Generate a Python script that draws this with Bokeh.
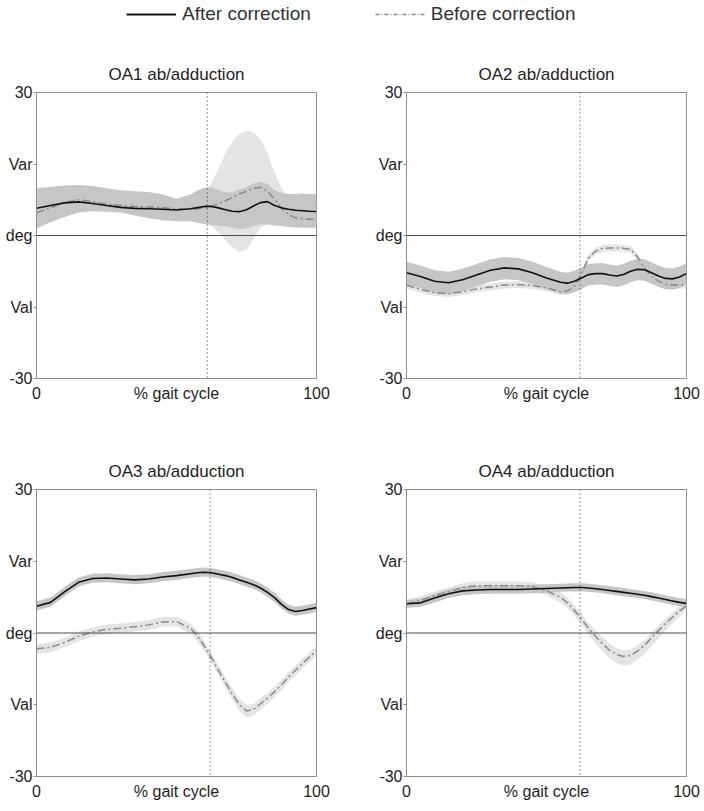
from bokeh.plotting import figure
from bokeh.models import Range1d, FixedTicker, Span, Legend, LegendItem
from bokeh.layouts import column, row
from bokeh.embed import file_html
from bokeh.resources import INLINE

# ---------------- data ----------------
pct = [0, 5, 10, 15, 20, 25, 30, 35, 40, 45, 50, 55, 57.5, 60, 62.5, 65, 67.5, 70, 72.5, 75,
       77.5, 80, 82.5, 85, 87.5, 90, 92.5, 95, 97.5, 100]
titles = ["OA1 ab/adduction", "OA2 ab/adduction", "OA3 ab/adduction", "OA4 ab/adduction"]
toe_off = [61, 62, 62, 62]
y_ticks = [-30, -15, 0, 15, 30]
y_tick_labels = ["-30", "Val", "deg", "Var", "30"]
x_ticks = [0, 50, 100]
x_tick_labels = ["0", "% gait cycle", "100"]
series_names = ["After correction", "Before correction"]

oa1_after = [5.7, 6.3, 6.85, 7.05, 6.7, 6.3, 5.9, 5.7, 5.6, 5.5, 5.35,
             5.6, 5.85, 6.1, 6.1, 5.8, 5.4, 5.1, 5.0, 5.4, 6.2, 6.9, 7.1, 6.3, 5.8, 5.5, 5.3, 5.2, 5.1, 5.05]
oa1_after_lo = [1.5, 2.8, 3.9, 4.8, 5.1, 5.0, 4.8, 4.2, 3.6, 3.2, 3.0,
                3.0, 2.7, 2.4, 2.2, 2.0, 1.9, 1.6, 1.3, 1.5, 2.0, 2.3, 2.3, 2.1, 2.0, 1.8, 1.7, 1.6, 1.6, 1.6]
oa1_after_hi = [9.9, 10.2, 10.5, 10.6, 10.4, 9.9, 9.5, 9.3, 9.1, 8.6, 7.7,
                8.6, 9.5, 10.0, 10.1, 9.6, 9.0, 9.0, 9.6, 10.2, 10.9, 11.3, 10.8, 9.5, 8.9, 8.7, 8.7, 8.8, 8.7, 8.7]
oa1_before = [4.75, 5.8, 6.9, 7.5, 7.1, 6.6, 6.3, 6.1, 6.0, 5.8, 5.6,
              5.5, 5.6, 5.8, 6.1, 6.7, 7.3, 8.0, 8.7, 9.3, 9.9, 10.1, 9.3, 7.6, 5.7, 4.4, 3.7, 3.5, 3.4, 3.4]
oa1_before_lo = [3.5, 4.4, 5.5, 6.1, 5.8, 5.3, 5.0, 4.8, 4.7, 4.5, 4.3,
                 4.0, 3.6, 3.0, 2.0, 0.7, -1.0, -2.6, -3.5, -3.0, -0.8, 1.6, 2.4, 2.5, 2.5, 2.5, 2.2, 2.0, 2.0, 2.0]
oa1_before_hi = [6.0, 7.2, 8.3, 8.9, 8.4, 7.9, 7.6, 7.4, 7.3, 7.1, 6.9,
                 7.5, 8.0, 9.0, 11.0, 14.0, 17.3, 19.7, 21.4, 22.0, 21.6, 20.3, 17.3, 13.3, 10.0, 7.5, 6.5, 6.0, 5.7, 5.5]

oa2_after = [-7.8, -8.6, -9.6, -9.9, -9.3, -8.3, -7.3, -6.8, -7.0, -7.8, -8.9,
             -9.8, -10.0, -9.6, -8.9, -8.2, -8.0, -8.0, -8.3, -8.5, -8.2, -7.5, -7.1, -7.2, -7.8, -8.5, -9.0, -9.1, -8.7, -8.0]
oa2_after_lo = [-10.2, -11.0, -12.0, -12.3, -11.7, -10.7, -9.7, -9.2, -9.4, -10.2, -11.3,
                -12.1, -12.3, -11.9, -11.2, -10.5, -10.3, -10.3, -10.6, -10.8, -10.5, -9.8, -9.4, -9.5, -10.1, -10.8, -11.3, -11.4, -11.0, -10.3]
oa2_after_hi = [-5.5, -6.3, -7.3, -7.6, -7.0, -6.0, -5.0, -4.5, -4.7, -5.5, -6.6,
                -7.6, -7.8, -7.4, -6.7, -6.0, -5.8, -5.8, -6.1, -6.3, -6.0, -5.3, -4.9, -5.0, -5.6, -6.3, -6.8, -6.9, -6.5, -5.8]
oa2_before = [-10.4, -11.3, -12.0, -12.2, -11.8, -11.2, -10.8, -10.4, -10.3, -10.5, -11.0,
              -11.8, -11.6, -10.6, -8.0, -4.7, -3.3, -2.7, -2.6, -2.6, -2.7, -2.9, -4.5, -6.8, -8.6, -9.6, -10.2, -10.4, -10.4, -10.4]
oa2_before_lo = [-11.1, -12.0, -12.7, -12.9, -12.5, -11.9, -11.5, -11.1, -11.0, -11.2, -11.7,
                 -12.5, -12.3, -11.3, -8.7, -5.4, -4.0, -3.4, -3.3, -3.3, -3.4, -3.6, -5.2, -7.5, -9.3, -10.3, -10.9, -11.1, -11.1, -11.1]
oa2_before_hi = [-9.7, -10.6, -11.3, -11.5, -11.1, -10.5, -10.1, -9.7, -9.6, -9.8, -10.3,
                 -11.1, -10.9, -9.9, -7.3, -4.0, -2.6, -2.0, -1.9, -1.9, -2.0, -2.2, -3.8, -6.1, -7.9, -8.9, -9.5, -9.7, -9.7, -9.7]

oa3_after = [5.6, 6.4, 8.6, 10.6, 11.4, 11.5, 11.3, 11.1, 11.3, 11.7, 12.0,
             12.4, 12.6, 12.7, 12.6, 12.3, 12.0, 11.6, 11.1, 10.6, 10.1, 9.4, 8.5, 7.4, 6.0, 4.9, 4.5, 4.7, 5.0, 5.3]
oa3_after_lo = [4.7, 5.5, 7.7, 9.7, 10.5, 10.6, 10.4, 10.2, 10.4, 10.8, 11.1,
                11.5, 11.7, 11.8, 11.7, 11.4, 11.1, 10.7, 10.2, 9.7, 9.2, 8.5, 7.6, 6.5, 5.1, 4.0, 3.6, 3.8, 4.1, 4.4]
oa3_after_hi = [6.6, 7.4, 9.6, 11.6, 12.4, 12.5, 12.3, 12.1, 12.3, 12.7, 13.0,
                13.4, 13.6, 13.7, 13.6, 13.3, 13.0, 12.6, 12.1, 11.6, 11.1, 10.4, 9.5, 8.4, 7.0, 5.9, 5.5, 5.7, 6.0, 6.3]
oa3_before = [-3.3, -3.0, -2.0, -0.7, 0.2, 0.8, 1.0, 1.3, 1.7, 2.3, 2.4,
              1.0, -0.6, -2.8, -5.2, -7.8, -10.4, -12.8, -15.0, -16.3, -16.0, -14.8, -13.6, -12.3, -10.8, -9.2, -7.8, -6.4, -5.0, -3.7]
oa3_before_lo = [-4.4, -4.0, -3.0, -1.7, -0.8, -0.2, 0.0, 0.3, 0.7, 1.3, 1.4,
                 -0.1, -1.7, -3.9, -6.3, -8.9, -11.5, -14.0, -16.3, -17.6, -17.3, -16.0, -14.8, -13.4, -11.9, -10.3, -8.9, -7.4, -6.0, -4.7]
oa3_before_hi = [-2.4, -2.0, -1.0, 0.3, 1.2, 1.8, 2.0, 2.3, 2.7, 3.3, 3.4,
                 2.0, 0.5, -1.8, -4.2, -6.7, -9.3, -11.6, -13.8, -15.0, -14.8, -13.6, -12.5, -11.2, -9.7, -8.2, -6.8, -5.4, -4.0, -2.7]

oa4_after = [6.1, 6.3, 7.3, 8.2, 8.8, 9.0, 9.1, 9.1, 9.1, 9.2, 9.3,
             9.4, 9.45, 9.5, 9.5, 9.4, 9.25, 9.1, 8.9, 8.7, 8.5, 8.3, 8.1, 7.9, 7.6, 7.3, 7.0, 6.7, 6.4, 6.2]
oa4_after_lo = [5.3, 5.5, 6.4, 7.3, 7.9, 8.1, 8.2, 8.2, 8.2, 8.3, 8.4,
                8.6, 8.65, 8.7, 8.7, 8.6, 8.45, 8.3, 8.1, 7.9, 7.7, 7.5, 7.3, 7.1, 6.8, 6.5, 6.2, 5.9, 5.6, 5.4]
oa4_after_hi = [6.9, 7.2, 8.2, 9.1, 9.7, 9.9, 10.0, 10.0, 10.0, 10.1, 10.2,
                10.3, 10.35, 10.4, 10.4, 10.3, 10.15, 10.0, 9.8, 9.6, 9.4, 9.2, 9.0, 8.8, 8.5, 8.2, 7.9, 7.6, 7.3, 7.1]
oa4_before = [6.1, 6.8, 7.8, 8.6, 9.5, 9.9, 9.9, 9.9, 9.9, 9.7, 8.8,
              7.5, 6.3, 4.7, 2.9, 1.0, -0.7, -2.2, -3.6, -4.5, -4.9, -4.7, -3.8, -2.6, -1.0, 0.5, 2.0, 3.3, 4.6, 5.7]
oa4_before_lo = [5.2, 5.9, 6.9, 7.7, 8.6, 9.0, 9.0, 9.0, 9.0, 8.8, 7.9,
                 6.4, 5.2, 3.6, 1.7, -0.3, -2.1, -3.8, -5.3, -6.3, -6.8, -6.6, -5.6, -4.4, -2.7, -1.2, 0.5, 2.0, 3.4, 4.8]
oa4_before_hi = [7.0, 7.7, 8.7, 9.5, 10.4, 10.8, 10.8, 10.8, 10.8, 10.6, 9.8,
                 8.5, 7.4, 5.8, 4.0, 2.2, 0.5, -0.9, -2.2, -3.2, -3.6, -3.4, -2.6, -1.5, 0.1, 1.6, 3.0, 4.3, 5.5, 6.5]

panels = [
    (oa1_after, oa1_after_lo, oa1_after_hi, oa1_before, oa1_before_lo, oa1_before_hi),
    (oa2_after, oa2_after_lo, oa2_after_hi, oa2_before, oa2_before_lo, oa2_before_hi),
    (oa3_after, oa3_after_lo, oa3_after_hi, oa3_before, oa3_before_lo, oa3_before_hi),
    (oa4_after, oa4_after_lo, oa4_after_hi, oa4_before, oa4_before_lo, oa4_before_hi),
]

# ---------------- style ----------------
FONT = "Liberation Sans"
TEXT = "#1e1e1e"
AFTER_COLOR = "#111111"
BEFORE_COLOR = "#8a8a8a"
AFTER_BAND = "#c6c6c6"
BEFORE_BAND = "#e4e4e4"
FRAME = "#8e8e8e"
BEFORE_DASH = "8 3 2 3"

# geometry: (width, height, border_left, border_right, border_top, border_bottom)
geom = [
    (370, 390, 36, 54, 52, 52),
    (334, 390, 36, 18, 52, 52),
    (370, 378, 36, 54, 59, 32),
    (334, 378, 36, 18, 59, 32),
]


def make_panel(k):
    w, h, bl, br, bt, bb = geom[k]
    after, a_lo, a_hi, before, b_lo, b_hi = panels[k]
    p = figure(width=w, height=h, x_range=Range1d(0, 100), y_range=Range1d(-30, 30),
               output_backend="svg", toolbar_location=None,
               min_border_left=bl, min_border_right=br, min_border_top=bt, min_border_bottom=bb)
    p.grid.visible = False
    p.outline_line_color = FRAME
    p.outline_line_width = 1
    p.background_fill_color = "white"
    p.border_fill_color = "white"

    p.title.text = titles[k]
    p.title.align = "center"
    p.title.text_font = FONT
    p.title.text_font_size = "17px"
    p.title.text_font_style = "normal"
    p.title.text_color = TEXT
    p.title.standoff = 18

    p.varea(x=pct, y1=b_lo, y2=b_hi, fill_color=BEFORE_BAND, fill_alpha=1.0)
    p.varea(x=pct, y1=a_lo, y2=a_hi, fill_color=AFTER_BAND, fill_alpha=1.0)
    p.line(x=pct, y=before, line_color=BEFORE_COLOR, line_width=1.5, line_dash=BEFORE_DASH)
    p.line(x=pct, y=after, line_color=AFTER_COLOR, line_width=1.6)

    p.add_layout(Span(location=0, dimension="width", line_color="#4a4a4a", line_width=1))
    p.add_layout(Span(location=toe_off[k], dimension="height", line_color="#333333",
                      line_width=1, line_dash="1 3"))

    ya = p.yaxis[0]
    ya.ticker = FixedTicker(ticks=y_ticks, minor_ticks=[])
    ya.major_label_overrides = {t: s for t, s in zip(y_ticks, y_tick_labels)}
    ya.major_tick_in = 0
    ya.major_tick_out = 3
    ya.minor_tick_out = 0
    ya.major_label_standoff = 1
    ya.axis_line_color = FRAME
    ya.major_tick_line_color = FRAME
    ya.major_label_text_font = FONT
    ya.major_label_text_font_size = "16px"
    ya.major_label_text_color = TEXT

    xa = p.xaxis[0]
    xa.ticker = FixedTicker(ticks=x_ticks, minor_ticks=[])
    xa.major_label_overrides = {t: s for t, s in zip(x_ticks, x_tick_labels)}
    xa.major_tick_in = 0
    xa.major_tick_out = 0
    xa.minor_tick_out = 0
    xa.major_label_standoff = 6
    xa.axis_line_color = FRAME
    xa.major_label_text_font = FONT
    xa.major_label_text_font_size = "16px"
    xa.major_label_text_color = TEXT
    return p


figs = [make_panel(k) for k in range(4)]

# ---------------- legend strip ----------------
leg = figure(width=704, height=40, x_range=Range1d(0, 1), y_range=Range1d(500, 501),
             output_backend="svg", toolbar_location=None,
             x_axis_location=None, y_axis_location=None,
             min_border=0)
leg.grid.visible = False
leg.outline_line_color = None
# legend samples reuse the OA1 series; they fall outside this strip's ranges, so only the legend shows
r_after = leg.line(x=pct, y=oa1_after, line_color=AFTER_COLOR, line_width=2)
r_before = leg.line(x=pct, y=oa1_before, line_color=BEFORE_COLOR, line_width=1.5, line_dash="4 2 1 2")
legend = Legend(items=[LegendItem(label=series_names[0], renderers=[r_after]),
                       LegendItem(label=series_names[1], renderers=[r_before])],
                orientation="horizontal", location=(126, 15),
                glyph_width=50, glyph_height=22, label_standoff=6, spacing=64,
                padding=0, margin=0, border_line_color=None,
                background_fill_alpha=0.0,
                label_text_font=FONT, label_text_font_size="19px", label_text_color="#333333")
leg.add_layout(legend, "center")

layout = column(leg, row(figs[0], figs[1]), row(figs[2], figs[3]))

open("out.html", "w").write(file_html(layout, INLINE))
